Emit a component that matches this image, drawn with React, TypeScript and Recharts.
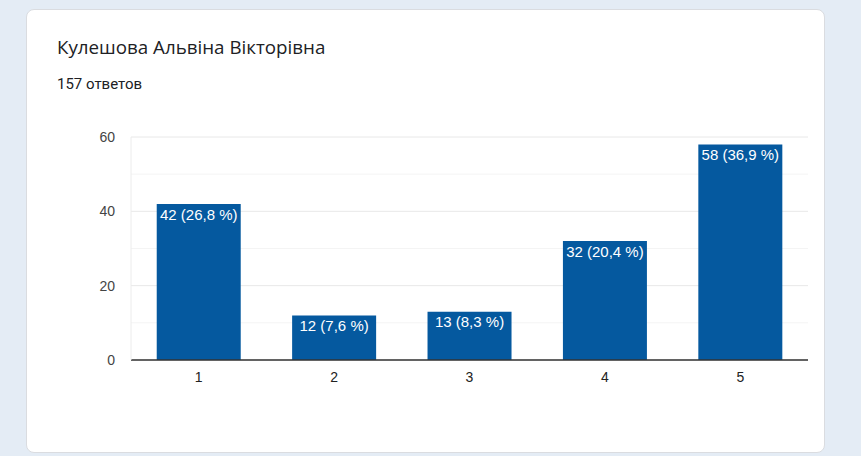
import { Bar, BarChart, CartesianGrid, LabelList, XAxis, YAxis } from "recharts";

const categories = ["1", "2", "3", "4", "5"];
const counts = [42, 12, 13, 32, 58];
const percents = ["26,8", "7,6", "8,3", "20,4", "36,9"];
const yTicks = [0, 20, 40, 60];
const minorTicks = [10, 30, 50];

const data = categories.map((name, i) => ({
    name,
    count: counts[i],
    label: `${counts[i]} (${percents[i]} %)`,
}));

export default function App() {
    return (
        <div style={{ position: "absolute", left: 0, top: 0, width: 861, height: 456, background: "#e4ecf5", overflow: "hidden" }}>
            <div
                style={{
                    position: "absolute",
                    left: 26,
                    top: 9,
                    width: 797,
                    height: 442,
                    background: "#fff",
                    border: "1px solid #dadce0",
                    borderRadius: 8,
                }}
            />
            <div style={{ position: "absolute", left: 57, top: 35, fontFamily: "'Open Sans', sans-serif", fontSize: 18.75, lineHeight: "24px", color: "#202124" }}>
                Кулешова Альвіна Вікторівна
            </div>
            <div style={{ position: "absolute", left: 57, top: 74, fontFamily: "Roboto, sans-serif", fontSize: 15, lineHeight: "20px", color: "#202124" }}>
                157 ответов
            </div>
            <div style={{ position: "absolute", left: 0, top: 0 }}>
                <BarChart
                    width={861}
                    height={456}
                    data={data}
                    margin={{ top: 137, right: 53, left: 0, bottom: 66 }}
                    barCategoryGap="19%"
                    style={{ fontFamily: "Arial, 'Liberation Sans', sans-serif" }}
                >
                    <CartesianGrid yAxisId="left" vertical={false} horizontalValues={minorTicks} stroke="#f4f4f4" />
                    <CartesianGrid yAxisId="left" vertical={false} horizontalValues={yTicks} stroke="#e8e8e8" />
                    <XAxis
                        dataKey="name"
                        tickLine={false}
                        axisLine={{ stroke: "#333", strokeWidth: 1.5 }}
                        tick={{ fill: "#222", fontSize: 14 }}
                        tickMargin={6}
                        height={30}
                    />
                    <YAxis
                        yAxisId="left"
                        domain={[0, 60]}
                        ticks={yTicks}
                        width={131}
                        tickLine={false}
                        tickSize={6}
                        tickMargin={10}
                        axisLine={{ stroke: "#ececec" }}
                        tick={{ fill: "#444", fontSize: 14 }}
                    />
                    <YAxis
                        yAxisId="right"
                        orientation="right"
                        domain={[0, 60]}
                        width={0}
                        tick={false}
                        tickLine={false}
                        axisLine={{ stroke: "#ececec" }}
                    />
                    <Bar yAxisId="left" dataKey="count" fill="#05599f" isAnimationActive={false}>
                        <LabelList dataKey="label" position="insideTop" offset={5} fill="#fff" fontSize={15} />
                    </Bar>
                </BarChart>
            </div>
        </div>
    );
}
